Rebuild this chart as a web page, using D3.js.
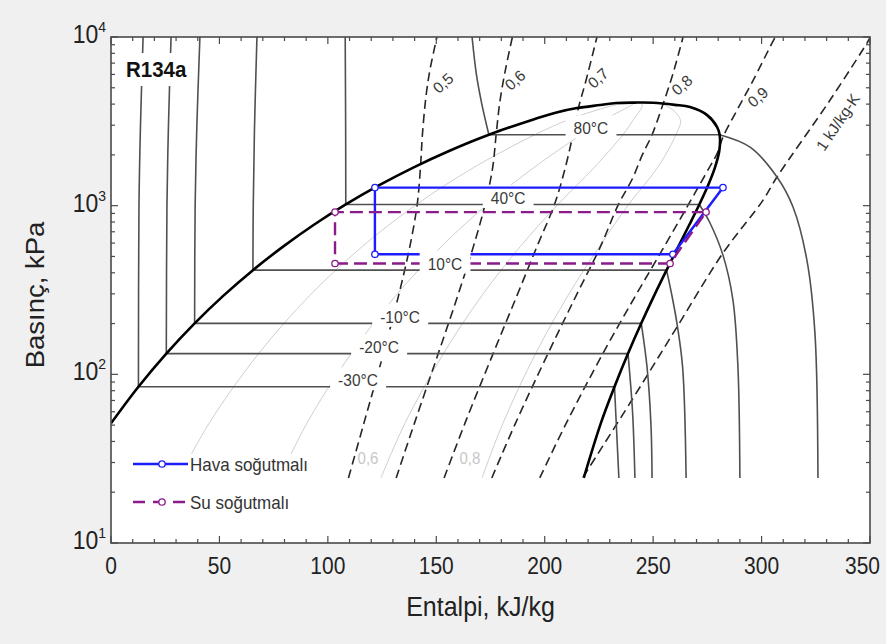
<!DOCTYPE html>
<html><head><meta charset="utf-8">
<script src="https://cdn.jsdelivr.net/npm/d3@7/dist/d3.min.js"></script>
<style>
html,body{margin:0;padding:0;background:#f0f0f0;}
svg{display:block;font-family:"Liberation Sans",Arial,sans-serif;}
</style></head><body>
<svg id="chart" width="886" height="644"></svg>
<script>
// ---------------- DATA (h in kJ/kg, P in kPa) ----------------
const hTickValues = [0, 50, 100, 150, 200, 250, 300, 350];
const hTickLabels = ["0", "50", "100", "150", "200", "250", "300", "350"];
const pTickValues = [10, 100, 1000, 10000];
const pTickExponents = ["1", "2", "3", "4"];

const satLiquid = [[0,51.21],[12.65,84.38],[25.5,132.73],[38.56,200.6],[51.86,292.8],[65.44,414.6],[79.35,571.7],[93.58,770.2],[108.27,1016.6],[123.48,1317.9],[139.36,1681.8],[156.14,2116.8],[174.25,2633.2],[194.79,3244.2],[205,3560],[214.9,3789],[225.5,3948],[233,4060],[241.5,4085]];
const satVapor = [[250,4075],[260,3960],[267,3842],[274.9,3443],[279.5,2926],[280.67,2633.2],[280.51,2116.8],[278.49,1681.8],[275.3,1317.9],[271.29,1016.6],[266.68,770.2],[261.61,571.7],[256.18,414.6],[250.46,292.8],[244.52,200.6],[238.41,132.73],[232.18,84.38],[225.86,51.21],[218,24.3]];

const isoLabels = ["-30°C", "-20°C", "-10°C", "10°C", "40°C", "80°C"];
const isoPsat = [84.38, 132.73, 200.6, 414.6, 1016.6, 2633.2];
const isoHf = [12.65, 25.5, 38.56, 65.44, 108.27, 174.25];
const isoHg = [232.18, 238.41, 244.52, 256.18, 271.29, 280.67];
const isoLabelH = [113.9, 123.6, 133.3, 154.0, 183.1, 221.3];
const isoLiquid = [
  [[12.65,84.38],[12.9,1000],[13.6,3000],[14.8,10000]],
  [[25.5,132.73],[25.8,1000],[26.5,3000],[27.7,10000]],
  [[38.56,200.6],[38.8,1000],[39.6,3000],[41,10000]],
  [[65.44,414.6],[65.6,1000],[66.2,3000],[67.3,10000]],
  [[108.27,1016.6],[108.2,3000],[108,10000]],
  [[174.25,2633.2],[171,4000],[168.5,6000],[166.5,10000]]
];
const isoVapor = [
  [[232.18,84.38],[233.2,45],[234.2,24.3]],
  [[238.41,132.73],[240.5,60],[241.6,24.3]],
  [[244.52,200.6],[247.2,110],[249,50],[249.5,24.3]],
  [[256.18,414.6],[258.5,300],[261,200],[263.6,110],[265.2,24.3]],
  [[271.29,1016.6],[276,800],[282.2,509],[286.8,275.6],[289.1,110.4],[290,24.3]],
  [[280.67,2633.2],[294.7,2223],[307.1,1478],[314.5,981],[320.9,476],[324.6,176],[326,24.3]]
];

const qualityLabels = ["0,6", "0,8"];
const qualityLabelH = [118.5, 165.5];
const qualityLabelP = 31.9;
const qualityLines = [
  [[31.3,24.3],[45.2,51.21],[68.1,132.73],[91.6,292.8],[115.8,571.7],[140.9,1016.6],[167.2,1681.8],[195.5,2633.2],[211.3,3244.2],[233.2,3972],[241.5,4085]],
  [[77.9,24.3],[90.3,51.21],[110.7,132.73],[131.3,292.8],[152.3,571.7],[173.5,1016.6],[195,1681.8],[216.8,2633.2],[227.8,3244.2],[240.4,3972],[241.5,4085]],
  [[124.5,24.3],[135.5,51.21],[153.3,132.73],[171,292.8],[188.7,571.7],[206.1,1016.6],[222.8,1681.8],[236,2633.2],[241,3244.2],[245,3972],[241.5,4085]],
  [[171.1,24.3],[180.7,51.21],[195.8,132.73],[210.7,292.8],[225.2,571.7],[238.7,1016.6],[252,1681.8],[260.5,2633.2],[262.5,3244.2],[255,3972],[241.5,4085]]
];

const entropyLabels = ["0,5", "0,6", "0,7", "0,8", "0,9", "1 kJ/kg-K"];
const entropyLabelH = [153.1, 186.3, 224.6, 263.3, 298.3, 335.2];
const entropyLabelP = [5330, 5553, 5706, 5186, 4404, 3131];
const entropyLines = [
  [[109.5,24.3],[116.6,51.2],[125.6,132.7],[132.6,292.8],[137.8,571.7],[141.2,1016.6],[142.7,1682],[143.6,2633],[145.3,4500],[147.2,6500],[150.3,10000]],
  [[131.5,24.3],[139.9,51.2],[150.9,132.7],[159.9,292.8],[167.1,571.7],[172.5,1016.6],[176,1682],[177.6,2633],[179.4,4200],[182,6500],[185.1,10000]],
  [[153.6,24.3],[163.2,51.2],[176.2,132.7],[187.2,292.8],[196.4,571.7],[204.5,1016.6],[209.5,1682],[213,2633],[215.3,3690],[219,5500],[224.1,10000]],
  [[175.6,24.3],[186.5,51.2],[201.5,132.7],[214.5,292.8],[225.7,571.7],[234,1016.6],[240.5,1450],[245,2000],[249.5,2633],[254.1,3840],[259.2,6100],[263.8,10000]],
  [[197.7,24.3],[209.9,51.2],[226.8,132.7],[241.9,292.8],[255.1,571.7],[266.3,1016.6],[275.9,1682],[279.6,2050],[282.2,2550],[288.7,3690],[296,5500],[304.8,9200],[306.3,10000]],
  [[217.7,24.6],[240.2,70.4],[261,190.7],[282.2,523.6],[300.7,1079],[307.1,1478],[331.6,4230],[348.6,9204],[350,9900]]
];

const cycleNames = ["Hava soğutmalı", "Su soğutmalı"];
const cycleH = [[121.7, 259.1, 282.2, 121.7], [103.3, 257.8, 274.4, 103.3]];
const cycleP = [[515, 515, 1280, 1280], [454, 454, 916, 916]];

// ---------------- DRAWING ----------------
const W = 886, H = 644;
const box = {left: 111, right: 870, top: 37, bottom: 543};
const VS = 1.1; // vertical stretch of glyphs seen in the reference
const svg = d3.select("#chart");
const x = d3.scaleLinear().domain([0, 350]).range([box.left, box.right]);
const y = d3.scaleLog().domain([10, 10000]).range([box.bottom, box.top]);

svg.append("rect").attr("width", W).attr("height", H).attr("fill", "#f0f0f0");
svg.append("rect").attr("x", box.left).attr("y", box.top)
  .attr("width", box.right - box.left).attr("height", box.bottom - box.top).attr("fill", "#fff");

svg.append("defs").append("clipPath").attr("id", "clip").append("rect")
  .attr("x", box.left).attr("y", box.top).attr("width", box.right - box.left).attr("height", box.bottom - box.top);
const g = svg.append("g").attr("clip-path", "url(#clip)");

const curve = d3.line().x(d => x(d[0])).y(d => y(d[1])).curve(d3.curveCatmullRom.alpha(0.5));

function stretchedText(parent, px, py, size, anchor) {
  return parent.append("text").attr("transform", `translate(${px},${py}) scale(1,${VS})`)
    .attr("text-anchor", anchor).attr("font-size", size);
}

// quality lines
g.selectAll(".q").data(qualityLines).join("path").attr("class", "q")
  .attr("d", curve).attr("fill", "none").attr("stroke", "#cfcfcf").attr("stroke-width", 1);

// entropy lines
g.selectAll(".s").data(entropyLines).join("path").attr("class", "s")
  .attr("d", curve).attr("fill", "none").attr("stroke", "#262626").attr("stroke-width", 1.6)
  .attr("stroke-dasharray", "9,5");

// isotherms
const isoColor = "#505050";
g.selectAll(".tl").data(isoLiquid).join("path").attr("class", "tl")
  .attr("d", curve).attr("fill", "none").attr("stroke", isoColor).attr("stroke-width", 1.6);
g.selectAll(".tv").data(isoVapor).join("path").attr("class", "tv")
  .attr("d", curve).attr("fill", "none").attr("stroke", isoColor).attr("stroke-width", 1.6);
g.selectAll(".tt").data(isoPsat).join("line").attr("class", "tt")
  .attr("x1", (d, i) => x(isoHf[i])).attr("x2", (d, i) => x(isoHg[i]))
  .attr("y1", d => y(d)).attr("y2", d => y(d))
  .attr("stroke", isoColor).attr("stroke-width", 1.6);

// dome
g.append("path").datum(satLiquid.concat(satVapor)).attr("d", curve)
  .attr("fill", "none").attr("stroke", "#000").attr("stroke-width", 2.6);

// quality labels
qualityLabels.forEach((t, i) => {
  stretchedText(g, x(qualityLabelH[i]), y(qualityLabelP) + 5.5, 15, "middle")
    .attr("fill", "#c8c8c8").text(t);
});

// isotherm labels
function isoLabel(i) {
  const tx = x(isoLabelH[i]), ty = y(isoPsat[i]) - 0.5;
  const t = stretchedText(g, tx, ty, 15.5, "middle").attr("fill", "#3a3a3a").text(isoLabels[i]);
  const bb = t.node().getBBox();
  g.insert("rect", () => t.node()).attr("x", tx + bb.x - 8).attr("y", ty - 19)
    .attr("width", bb.width + 16).attr("height", 23).attr("fill", "#fff");
}
isoLabel(4); isoLabel(5);

// cycles
const cycColors = ["#1c1cff", "#8b1a8b"];
const cycDash = [null, "13,6"];
const lin = d3.line().x(d => x(d[0])).y(d => y(d[1]));
cycleH.forEach((hs, k) => {
  const pts = hs.map((h, i) => [h, cycleP[k][i]]);
  g.append("path").datum(pts.concat([pts[0]])).attr("d", lin).attr("fill", "none")
    .attr("stroke", cycColors[k]).attr("stroke-width", 2.4)
    .attr("stroke-dasharray", cycDash[k]);
  g.selectAll(".m" + k).data(pts).join("circle").attr("class", "m" + k)
    .attr("cx", d => x(d[0])).attr("cy", d => y(d[1])).attr("r", 3.2)
    .attr("fill", "#fff").attr("stroke", cycColors[k]).attr("stroke-width", 1.3);
});

[0, 1, 2, 3].forEach(isoLabel);

// entropy labels
entropyLabels.forEach((t, i) => {
  g.append("text").attr("transform", `translate(${x(entropyLabelH[i])},${y(entropyLabelP[i])}) rotate(${i === 5 ? -56 : -42})`)
    .attr("text-anchor", "middle").attr("dy", "0.35em").attr("font-size", 15.5).attr("fill", "#3a3a3a").text(t);
});

// R134a label
g.append("rect").attr("x", box.left + 10).attr("y", box.top + 16).attr("width", 74).attr("height", 33).attr("fill", "#fff");
stretchedText(g, box.left + 15, box.top + 40, 20.5, "start").attr("font-weight", "bold").attr("fill", "#111").text("R134a");

// legend
const lg = svg.append("g");
lg.append("rect").attr("x", box.left + 13).attr("y", box.bottom - 89).attr("width", 198).attr("height", 67).attr("fill", "#fff");
cycleNames.forEach((n, k) => {
  const ly = box.bottom - 79 + k * 38;
  lg.append("line").attr("x1", box.left + 22).attr("x2", box.left + 77).attr("y1", ly).attr("y2", ly)
    .attr("stroke", cycColors[k]).attr("stroke-width", 2.4).attr("stroke-dasharray", k ? "12,8" : null);
  lg.append("circle").attr("cx", box.left + 51).attr("cy", ly).attr("r", 3.2)
    .attr("fill", "#fff").attr("stroke", cycColors[k]).attr("stroke-width", 1.3);
  stretchedText(lg, box.left + 79, ly + 7, 17, "start").attr("fill", "#333").text(n);
});

// frame
svg.append("rect").attr("x", box.left).attr("y", box.top).attr("width", box.right - box.left)
  .attr("height", box.bottom - box.top).attr("fill", "none").attr("stroke", "#4a4a4a").attr("stroke-width", 1.6);

// ticks
const ax = svg.append("g").attr("stroke", "#4a4a4a").attr("stroke-width", 1.2);
x.ticks(35).forEach(v => {
  const L = hTickValues.includes(v) ? 7 : 4;
  ax.append("line").attr("x1", x(v)).attr("x2", x(v)).attr("y1", box.bottom).attr("y2", box.bottom - L);
  ax.append("line").attr("x1", x(v)).attr("x2", x(v)).attr("y1", box.top).attr("y2", box.top + L);
});
y.ticks().forEach(v => {
  const L = pTickValues.includes(v) ? 7 : 4;
  ax.append("line").attr("y1", y(v)).attr("y2", y(v)).attr("x1", box.left).attr("x2", box.left + L);
  ax.append("line").attr("y1", y(v)).attr("y2", y(v)).attr("x1", box.right).attr("x2", box.right - L);
});

// tick labels
hTickValues.forEach((v, i) => {
  const t = stretchedText(svg, x(v), box.bottom + 31, 21, "middle").attr("fill", "#222").text(hTickLabels[i]);
  const bb = t.node().getBBox();
  const over = x(v) + bb.x + bb.width - (W - 6);
  if (over > 0) t.attr("transform", `translate(${x(v) - over},${box.bottom + 31}) scale(1,${VS})`);
});
pTickValues.forEach((v, i) => {
  const t = stretchedText(svg, box.left - 5, y(v) + 6, 23, "end").attr("fill", "#222");
  t.append("tspan").text("10");
  t.append("tspan").attr("dy", -10).attr("font-size", 14).text(pTickExponents[i]);
});

// axis titles
stretchedText(svg, (box.left + box.right) / 2 - 10, 616, 25, "middle").attr("fill", "#222").text("Entalpi, kJ/kg");
svg.append("text").attr("transform", `translate(44,295) rotate(-90) scale(${VS},1)`)
  .attr("text-anchor", "middle").attr("font-size", 25).attr("fill", "#222").text("Basınç, kPa");
</script>
</body></html>
